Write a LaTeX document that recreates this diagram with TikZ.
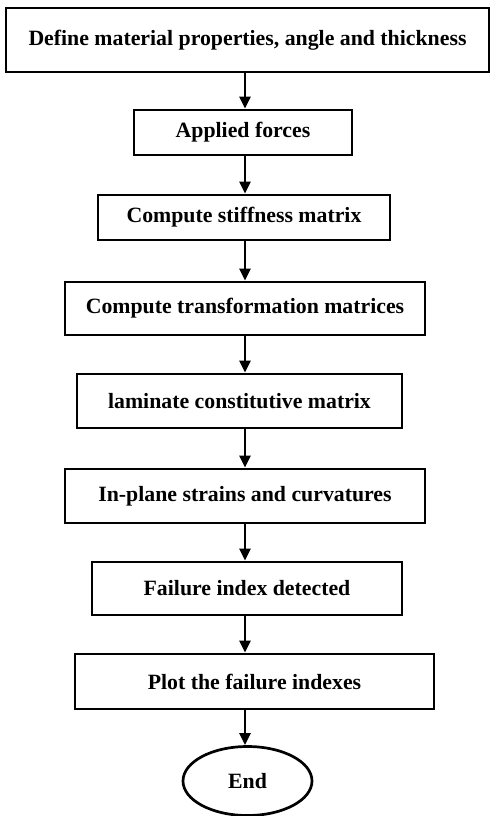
\documentclass[tikz,border=0pt]{standalone}
\usepackage{fontspec}
\setmainfont{Liberation Serif}
\usetikzlibrary{arrows.meta,shapes.geometric}
\tikzset{
  box/.style={draw,line width=2.7pt,inner sep=0pt,align=center,
    font=\fontsize{21.8}{26}\selectfont\bfseries},
  term/.style={ellipse,draw,line width=2.7pt,inner sep=0pt,
    font=\fontsize{21.8}{26}\selectfont\bfseries},
  arr/.style={-{Triangle[length=12pt,width=11pt]},line width=2.3pt},
}

\begin{document}
\begin{tikzpicture}[x=1pt,y=-1pt]
\useasboundingbox (0,0) rectangle (491,816);
\foreach \n/\cx/\cy/\w/\h/\lab in {
  b1/247.5/40/483/64/{Define material properties, angle and thickness},
  b2/243/132.5/218/45/{Applied forces},
  b3/244/217.5/292/45/{Compute stiffness matrix},
  b4/245/308.5/360/53/{Compute transformation matrices},
  b5/239.5/401/325/54/{laminate constitutive matrix},
  b6/245/496/360/54/{In-plane strains and curvatures},
  b7/247/588.5/310/53/{Failure index detected},
  b8/254.5/681.5/359/55/{Plot the failure indexes}}{
  \node[box,minimum width=\w pt,minimum height=\h pt] (\n) at (\cx,\cy) {\lab};
}
\node[term,minimum width=129pt,minimum height=69pt] (e) at (247.5,781) {End};
\coordinate (ax) at (245,0);
\foreach \a/\b in {b1/b2,b2/b3,b3/b4,b4/b5,b5/b6,b6/b7,b7/b8,b8/e}{
  \draw[arr] (\a.south -| ax) -- (\b.north -| ax);
}
\end{tikzpicture}
\end{document}
